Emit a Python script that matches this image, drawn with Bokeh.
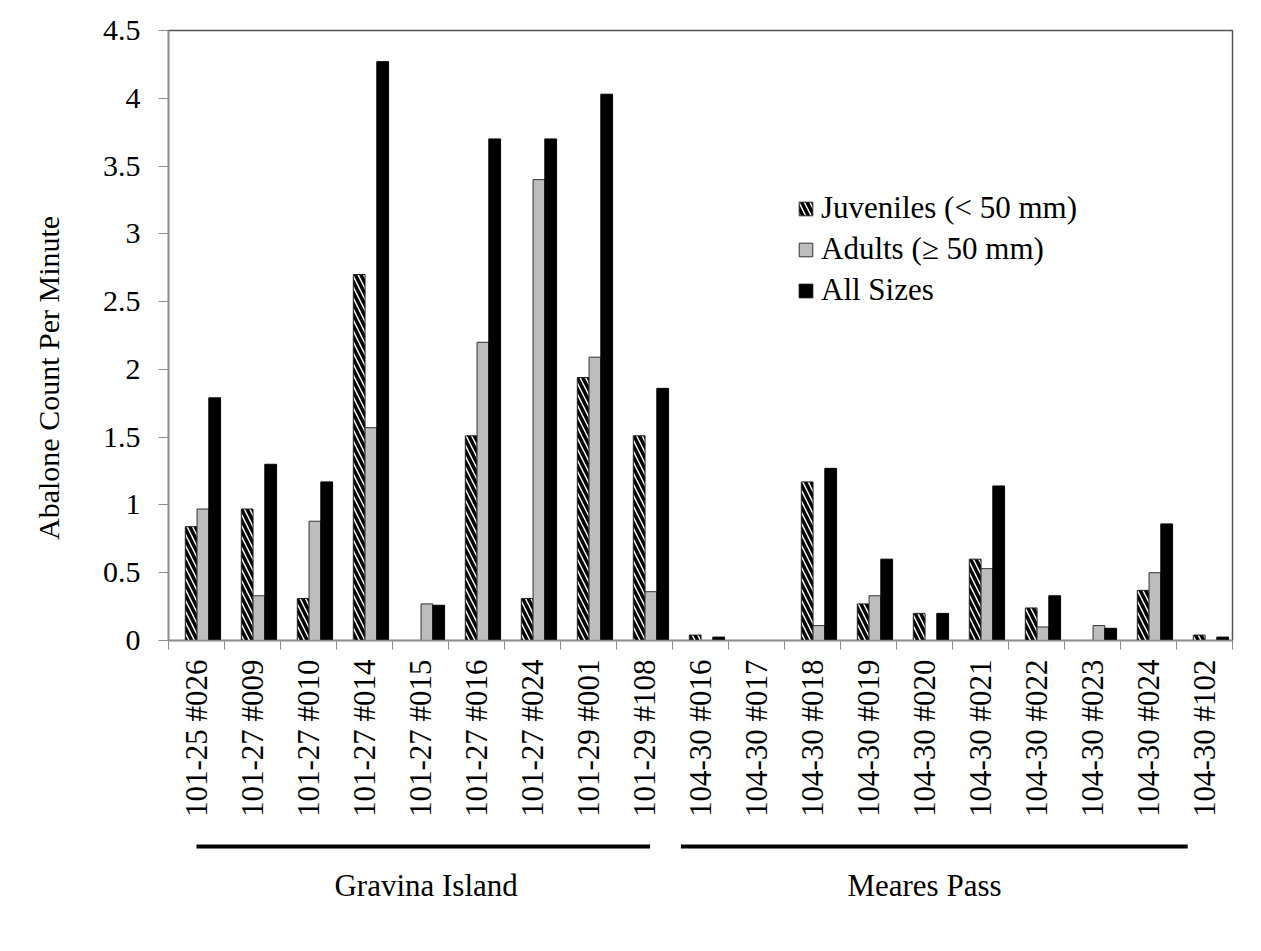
from math import pi
from bokeh.plotting import figure
from bokeh.layouts import column, row
from bokeh.models import (Range1d, FixedTicker, Legend, LegendItem, ColumnDataSource)
from bokeh.core.properties import value
from bokeh.embed import file_html
from bokeh.resources import INLINE

# ---------------- data ----------------
sites = ["101-25 #026", "101-27 #009", "101-27 #010", "101-27 #014", "101-27 #015",
         "101-27 #016", "101-27 #024", "101-29 #001", "101-29 #108",
         "104-30 #016", "104-30 #017", "104-30 #018", "104-30 #019", "104-30 #020",
         "104-30 #021", "104-30 #022", "104-30 #023", "104-30 #024", "104-30 #102"]
juveniles = [0.84, 0.97, 0.31, 2.70, 0.0, 1.51, 0.31, 1.94, 1.51,
             0.04, 0.0, 1.17, 0.27, 0.20, 0.60, 0.24, 0.0, 0.37, 0.04]
adults = [0.97, 0.33, 0.88, 1.57, 0.27, 2.20, 3.40, 2.09, 0.36,
          0.0, 0.0, 0.11, 0.33, 0.0, 0.53, 0.10, 0.11, 0.50, 0.0]
all_sizes = [1.79, 1.30, 1.17, 4.27, 0.26, 3.70, 3.70, 4.03, 1.86,
             0.025, 0.0, 1.27, 0.60, 0.20, 1.14, 0.33, 0.09, 0.86, 0.025]
series_names = ["Juveniles (< 50 mm)", "Adults (\u2265 50 mm)", "All Sizes"]
y_ticks = [0, 0.5, 1, 1.5, 2, 2.5, 3, 3.5, 4, 4.5]
y_tick_labels = ["0", "0.5", "1", "1.5", "2", "2.5", "3", "3.5", "4", "4.5"]
groups = ["Gravina Island", "Meares Pass"]
y_title = "Abalone Count Per Minute"

FONT = "Liberation Serif"
n = len(sites)
idx = list(range(n))
x_range = Range1d(0, n)

# ---------------- main figure ----------------
p = figure(width=1157, height=820, output_backend="svg", toolbar_location=None,
           x_range=x_range, y_range=Range1d(0, 4.5),
           min_border_left=80, min_border_right=13, min_border_top=30,
           min_border_bottom=178)
p.background_fill_color = "white"
p.border_fill_color = "white"
p.outline_line_color = "#555555"
p.outline_line_width = 1.5
p.xgrid.visible = False
p.ygrid.visible = False

off = [-0.095, 0.115, 0.325]
w = 0.21
src = ColumnDataSource(dict(
    xj=[i + 0.5 + off[0] for i in idx],
    xa=[i + 0.5 + off[1] for i in idx],
    xs=[i + 0.5 + off[2] for i in idx],
    juv=juveniles, adu=adults, alls=all_sizes))

rj = p.vbar(x="xj", top="juv", width=w, source=src, fill_color="white",
            hatch_pattern="left_diagonal_line", hatch_color="black",
            hatch_weight=3.5, hatch_scale=11, line_color="#222222", line_width=1)
ra = p.vbar(x="xa", top="adu", width=w, source=src, fill_color="#bdbdbd",
            line_color="#333333", line_width=1)
rs = p.vbar(x="xs", top="alls", width=w, source=src, fill_color="black",
            line_color="black", line_width=1)

xa = p.xaxis[0]
xa.ticker = FixedTicker(ticks=[i + 0.5 for i in idx], minor_ticks=list(range(n + 1)))
xa.major_label_overrides = {i + 0.5: s for i, s in enumerate(sites)}
xa.major_label_orientation = pi / 2
xa.major_tick_out = 0
xa.major_tick_in = 0
xa.minor_tick_out = 9
xa.minor_tick_in = 0
xa.minor_tick_line_color = "#8c8c8c"
xa.axis_line_color = "#8c8c8c"
xa.axis_line_width = 1.5
xa.major_label_standoff = 10
xa.major_label_text_font = FONT
xa.major_label_text_font_size = "31px"
xa.major_label_text_color = "black"

ya = p.yaxis[0]
ya.ticker = FixedTicker(ticks=y_ticks, minor_ticks=[])
ya.major_label_overrides = {t: l for t, l in zip(y_ticks, y_tick_labels)}
ya.major_tick_out = 10
ya.major_tick_in = 0
ya.major_tick_line_color = "#8c8c8c"
ya.axis_line_color = "#8c8c8c"
ya.axis_line_width = 1.5
ya.major_label_standoff = 18
ya.major_label_text_font = FONT
ya.major_label_text_font_size = "30px"
ya.major_label_text_color = "black"

legend = Legend(items=[LegendItem(label=series_names[0], renderers=[rj]),
                       LegendItem(label=series_names[1], renderers=[ra]),
                       LegendItem(label=series_names[2], renderers=[rs])],
                location=(629, 332), glyph_width=17, glyph_height=17,
                label_height=30, spacing=5, padding=0, margin=0,
                label_standoff=7, label_text_font=FONT,
                label_text_font_size="31px", label_text_color="black",
                border_line_alpha=0, background_fill_alpha=0)
p.add_layout(legend)

# ---------------- y title panel ----------------
left = figure(width=88, height=820, output_backend="svg", toolbar_location=None,
              x_range=Range1d(0, 88), y_range=Range1d(0, 820),
              min_border=0, x_axis_location=None, y_axis_location=None)
left.outline_line_color = None
left.xgrid.visible = False
left.ygrid.visible = False
left.text(x=[48], y=[353], text=[y_title], angle=pi / 2, text_align="center",
          text_baseline="middle", text_font=value(FONT), text_font_size="30px",
          text_color="black")

# ---------------- group panel ----------------
bottom = figure(width=1245, height=115, output_backend="svg", toolbar_location=None,
                x_range=x_range, y_range=Range1d(0, 115),
                min_border_left=168, min_border_right=13, min_border_top=0,
                min_border_bottom=0, x_axis_location=None, y_axis_location=None)
bottom.outline_line_color = None
bottom.xgrid.visible = False
bottom.ygrid.visible = False
gx0 = [0.5, 9.15]
gx1 = [8.6, 18.2]
gtext_x = [4.6, 13.5]
bottom.segment(x0=gx0, y0=[89, 89], x1=gx1, y1=[89, 89], line_color="black",
               line_width=4)
bottom.text(x=gtext_x, y=[50, 50], text=groups,
            text_align="center", text_baseline="middle", text_font=value(FONT),
            text_font_size="31px", text_color="black")

layout = column(row(left, p), bottom)
open("out.html", "w").write(file_html(layout, INLINE))
